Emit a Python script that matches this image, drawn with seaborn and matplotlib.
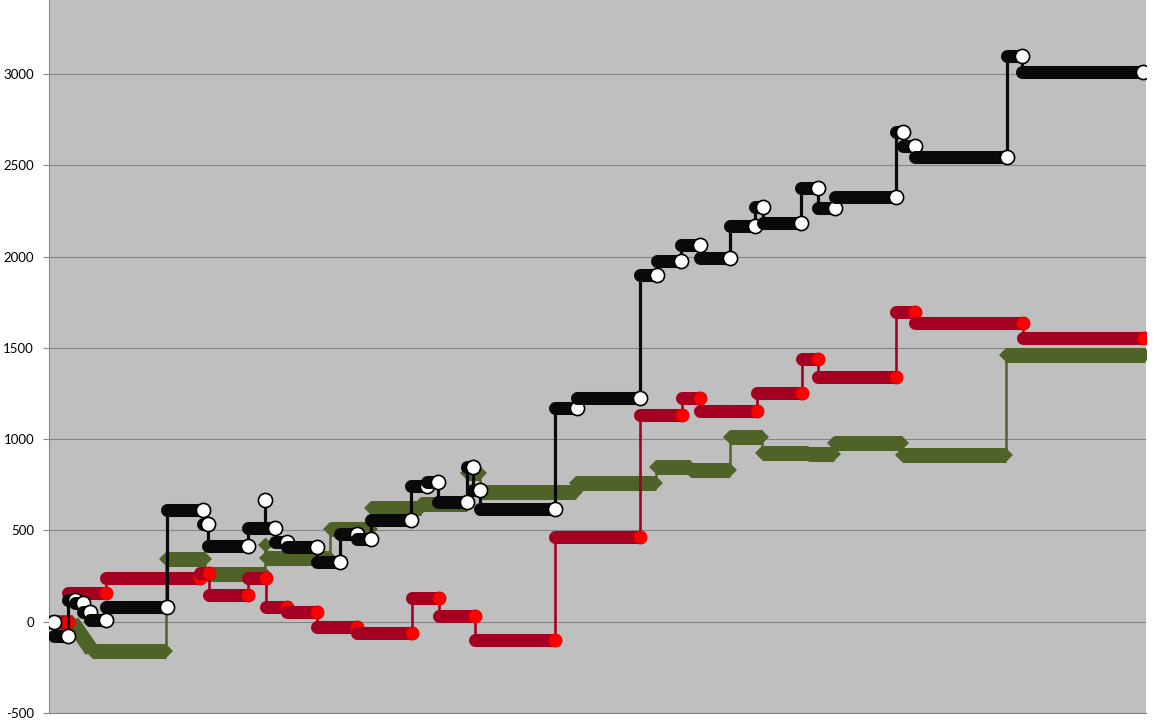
import matplotlib
matplotlib.use("Agg")
import matplotlib.pyplot as plt
import pandas as pd
import seaborn as sns

# x positions are arbitrary time steps (no x labels in the chart)
black_start = [50, 54, 68, 75, 83, 90, 106, 167, 203, 208, 248, 265, 275, 287, 317, 340, 357, 371, 411, 427,
               438, 467, 473, 480, 555, 577, 640, 657, 681, 700, 730, 755, 763, 801, 818, 835, 896, 903, 915,
               1007, 1022]
black_end = [54, 68, 75, 83, 90, 106, 167, 203, 208, 248, 275, 265, 287, 317, 340, 357, 371, 411, 427, 438,
             467, 473, 480, 555, 577, 640, 657, 681, 700, 730, 755, 763, 801, 818, 835, 896, 903, 915, 1007,
             1022, 1143]
black_val = [0, -77, 120, 104, 55, 11, 82, 613, 537, 416, 515, 668, 438, 411, 328, 482, 454, 558, 745, 766,
             657, 849, 723, 619, 1172, 1226, 1900, 1976, 2064, 1993, 2168, 2272, 2184, 2376, 2267, 2327, 2683,
             2606, 2546, 3099, 3011]

red_start = [55, 68, 106, 200, 209, 248, 266, 287, 317, 357, 412, 439, 475, 555, 640, 682, 700, 757, 802, 818,
             896, 915, 1023]
red_end = [68, 106, 200, 209, 248, 266, 287, 317, 357, 412, 439, 475, 555, 640, 682, 700, 757, 802, 818, 896,
           915, 1023, 1144]
red_val = [0, 159, 241, 268, 148, 241, 82, 55, -27, -60, 131, 33, -99, 465, 1133, 1226, 1155, 1254, 1440,
           1341, 1697, 1637, 1555]

green_start = [50, 92, 166, 205, 265, 266, 330, 371, 421, 467, 480, 576, 656, 690, 730, 762, 808, 834, 902,
               1006]
green_end = [72, 166, 205, 265, 266, 330, 371, 421, 467, 480, 576, 656, 690, 730, 762, 808, 834, 902, 1006,
             1145]
green_val = [0, -159, 345, 263, 421, 350, 509, 624, 646, 816, 712, 761, 849, 832, 1013, 925, 920, 980, 914,
             1462]
green_ramp_x = [72, 92]
green_ramp_y = [0, -159]

y_ticks = [-500, 0, 500, 1000, 1500, 2000, 2500, 3000]


def risers(starts, ends, vals):
    rows = []
    for i in range(1, len(vals)):
        if starts[i] <= ends[i - 1]:
            rows.append((i, starts[i], vals[i - 1]))
            rows.append((i, starts[i], vals[i]))
    return pd.DataFrame(rows, columns=["seg", "x", "value"])


def draw_series(ax, starts, ends, vals, color, riser_lw, z, marker_kw=None, pointed=False):
    sns.lineplot(data=risers(starts, ends, vals), x="x", y="value", units="seg", estimator=None,
                 color=color, linewidth=riser_lw, zorder=z, ax=ax, legend=False)
    for i, (s, e, v) in enumerate(zip(starts, ends, vals)):
        zi = z + 0.01 * (i + 1)
        if pointed:
            ax.plot([s, e], [v, v], color=color, lw=10.8, solid_capstyle="butt",
                    marker="D", ms=7.6, mew=0, zorder=zi)
        else:
            ax.plot([s, e], [v, v], color=color, lw=9.4, solid_capstyle="round", zorder=zi)
            ax.plot([e], [v], zorder=zi, **marker_kw)


sns.set_style("whitegrid", {"axes.facecolor": "#BFBFBF", "grid.color": "#868686",
                            "axes.edgecolor": "#868686"})
plt.rcParams["font.family"] = ["Lato", "DejaVu Sans"]
plt.rcParams["axes.unicode_minus"] = False

fig = plt.figure(figsize=(11.62, 7.28), dpi=100)
ax = fig.add_axes([49 / 1162, 15 / 728, 1097 / 1162, 713 / 728])

green = "#4F6228"
ax.plot(green_ramp_x, green_ramp_y, color=green, lw=10.8, solid_capstyle="butt", zorder=2)
draw_series(ax, green_start, green_end, green_val, green, 1.8, 2, pointed=True)
draw_series(ax, red_start, red_end, red_val, "#A50021", 1.9, 3,
            dict(marker="o", ms=9.4, mfc="#FF0000", mec="#E00000", mew=0.6, ls="none"))
draw_series(ax, black_start, black_end, black_val, "#0A0A0A", 2.3, 4,
            dict(marker="o", ms=10.2, mfc="white", mec="black", mew=1.2, ls="none"))

ax.set_xlim(49, 1146)
ax.set_ylim(-500, 3405)
ax.set_yticks(y_ticks)
ax.set_xticks([])
ax.set_xlabel("")
ax.set_ylabel("")
ax.grid(axis="x", visible=False)
ax.grid(axis="y", linewidth=0.8)
for side in ["top", "right"]:
    ax.spines[side].set_visible(False)
for side in ["left", "bottom"]:
    ax.spines[side].set_linewidth(0.8)
ax.tick_params(axis="y", left=True, length=4.3, width=0.8, color="#868686", pad=6.5,
               labelsize=9.5, labelcolor="black")

fig.savefig("out.png", dpi=100)
